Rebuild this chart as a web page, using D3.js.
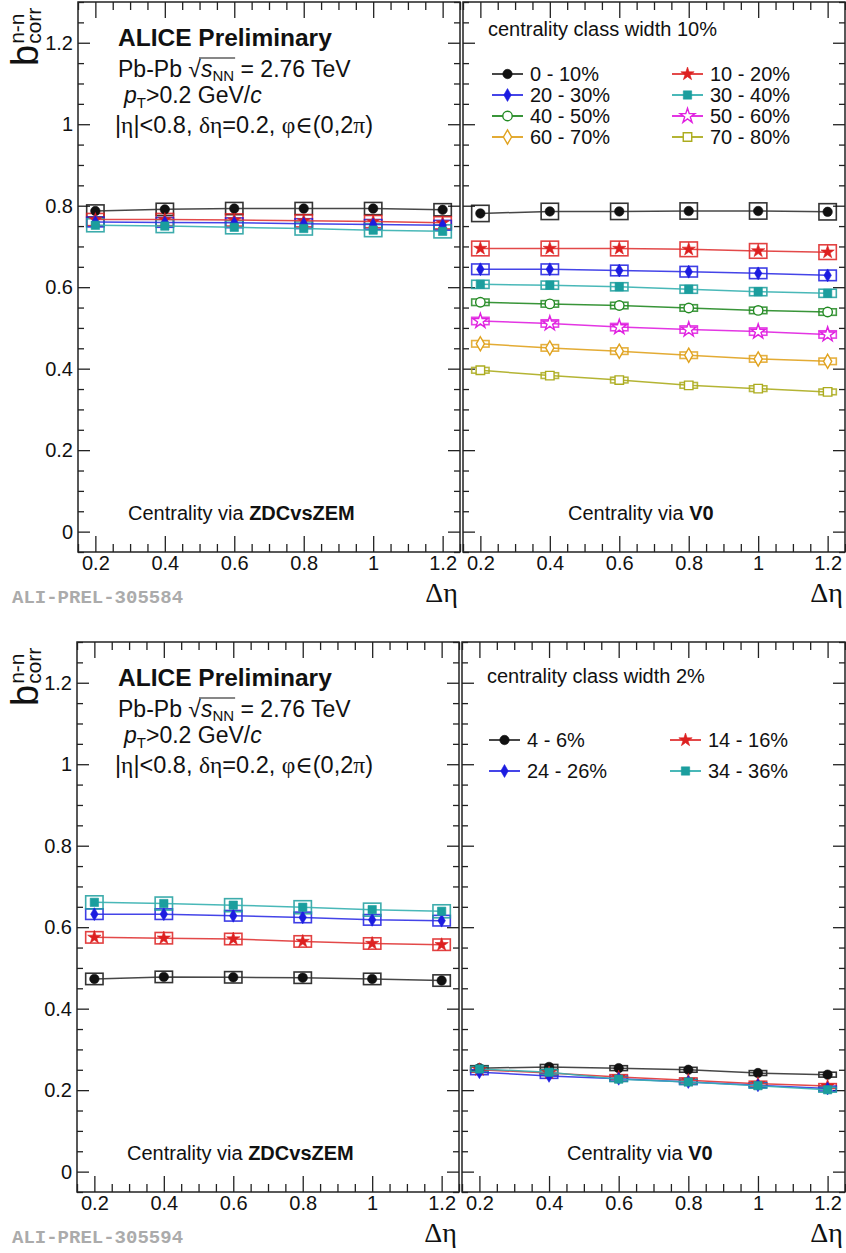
<!DOCTYPE html>
<html lang="en">
<head>
    <meta charset="UTF-8"/>
    <title>b_corr n-n vs delta eta</title>
    <script src="https://d3js.org/d3.v7.min.js"></script>
    <style>
        body { margin: 0; background: #fff; }
        text { font-family: "Liberation Sans", Arial, sans-serif; fill: #111; }
        .greek { font-family: "Liberation Serif", "DejaVu Serif", serif; }
    </style>
</head>
<body>
<div id="chart"></div>
<script>
    // eta gap bins (x values)
    const etaBins = [0.2, 0.4, 0.6, 0.8, 1.0, 1.2];

    // top-left: centrality via ZDCvsZEM, class width 10%
    const zdc10Labels = ["0 - 10%", "10 - 20%", "20 - 30%", "30 - 40%"];
    const zdc10_0 = [0.787, 0.791, 0.793, 0.793, 0.793, 0.790];
    const zdc10_10 = [0.766, 0.766, 0.765, 0.763, 0.761, 0.758];
    const zdc10_20 = [0.760, 0.759, 0.758, 0.756, 0.754, 0.752];
    const zdc10_30 = [0.752, 0.750, 0.747, 0.744, 0.740, 0.737];
    const zdc10Sys = [0.015, 0.015, 0.012, 0.016];

    // top-right: centrality via V0, class width 10%
    const v010Labels = ["0 - 10%", "10 - 20%", "20 - 30%", "30 - 40%", "40 - 50%", "50 - 60%", "60 - 70%", "70 - 80%"];
    const v010_0 = [0.781, 0.786, 0.786, 0.787, 0.787, 0.785];
    const v010_10 = [0.695, 0.695, 0.695, 0.693, 0.689, 0.686];
    const v010_20 = [0.644, 0.644, 0.641, 0.638, 0.634, 0.629];
    const v010_30 = [0.607, 0.605, 0.601, 0.595, 0.589, 0.585];
    const v010_40 = [0.563, 0.559, 0.555, 0.549, 0.543, 0.539];
    const v010_50 = [0.517, 0.511, 0.502, 0.496, 0.491, 0.484];
    const v010_60 = [0.461, 0.451, 0.443, 0.433, 0.424, 0.418];
    const v010_70 = [0.396, 0.383, 0.372, 0.359, 0.351, 0.343];
    const v010Sys = [0.020, 0.018, 0.013, 0.010, 0.008, 0.009, 0.008, 0.007];

    // bottom-left: centrality via ZDCvsZEM, class width 2%
    const zdc2Labels = ["4 - 6%", "14 - 16%", "24 - 26%", "34 - 36%"];
    const zdc2_4 = [0.473, 0.478, 0.477, 0.476, 0.473, 0.469];
    const zdc2_14 = [0.575, 0.573, 0.571, 0.565, 0.560, 0.557];
    const zdc2_24 = [0.632, 0.632, 0.628, 0.624, 0.618, 0.616];
    const zdc2_34 = [0.661, 0.658, 0.654, 0.649, 0.643, 0.639];
    const zdc2Sys = [0.014, 0.014, 0.013, 0.016];

    // bottom-right: centrality via V0, class width 2%
    const v02_4 = [0.254, 0.257, 0.254, 0.250, 0.242, 0.238];
    const v02_14 = [0.250, 0.242, 0.232, 0.224, 0.216, 0.210];
    const v02_24 = [0.244, 0.235, 0.228, 0.220, 0.212, 0.204];
    const v02_34 = [0.252, 0.244, 0.227, 0.220, 0.211, 0.201];
    const v02Sys = [0.006, 0.006, 0.006, 0.006];

    // tick values
    const xMajor = [0.2, 0.4, 0.6, 0.8, 1.0, 1.2];
    const yMajor = [0, 0.2, 0.4, 0.6, 0.8, 1.0, 1.2];

    // marker styles, one per centrality slot (ROOT-like)
    const styles = [
        {color: "#111111", line: "#333333", type: d3.symbolCircle, size: 70, open: false},
        {color: "#dd2020", line: "#e03535", type: d3.symbolStar, size: 55, open: false},
        {color: "#1c1ce0", line: "#3030e6", type: d3.symbolDiamond, size: 48, open: false},
        {color: "#1b9e9e", line: "#35b0b0", type: d3.symbolSquare, size: 70, open: false},
        {color: "#238a23", line: "#238a23", type: d3.symbolCircle, size: 70, open: true},
        {color: "#e020e0", line: "#e020e0", type: d3.symbolStar, size: 68, open: true},
        {color: "#e0a21e", line: "#e0a21e", type: d3.symbolDiamond, size: 58, open: true},
        {color: "#acac1e", line: "#acac1e", type: d3.symbolSquare, size: 72, open: true}
    ];

    const width = 846, height = 1253;
    const xDomain = [0.15, 1.25];
    const yDomain = [-0.05, 1.3];

    const svg = d3.select("#chart").append("svg")
        .attr("width", width)
        .attr("height", height)
        .style("background", "#fff");

    const fmt = d => String(+d.toFixed(1));

    function drawPanel(p) {
        const x = d3.scaleLinear().domain(xDomain).range([p.x0, p.x1]);
        const y = d3.scaleLinear().domain(yDomain).range([p.y1, p.y0]);
        const g = svg.append("g");

        const xMinor = d3.range(0.15, 1.2501, 0.05).filter(v => !xMajor.some(m => Math.abs(m - v) < 1e-6));
        const yMinor = d3.range(-0.05, 1.3001, 0.05).filter(v => !yMajor.some(m => Math.abs(m - v) < 1e-6));

        // bottom axis (ticks inward)
        g.append("g").attr("transform", "translate(0," + p.y1 + ")")
            .call(d3.axisBottom(x).tickValues(xMajor).tickSizeInner(-16).tickSizeOuter(0).tickPadding(4).tickFormat(fmt));
        g.append("g").attr("transform", "translate(0," + p.y1 + ")")
            .call(d3.axisBottom(x).tickValues(xMinor).tickSizeInner(-8).tickSizeOuter(0).tickFormat(""));
        // top axis
        g.append("g").attr("transform", "translate(0," + p.y0 + ")")
            .call(d3.axisTop(x).tickValues(xMajor).tickSizeInner(-16).tickSizeOuter(0).tickFormat(""));
        g.append("g").attr("transform", "translate(0," + p.y0 + ")")
            .call(d3.axisTop(x).tickValues(xMinor).tickSizeInner(-8).tickSizeOuter(0).tickFormat(""));
        // left axis
        g.append("g").attr("transform", "translate(" + p.x0 + ",0)")
            .call(d3.axisLeft(y).tickValues(yMajor).tickSizeInner(-12).tickSizeOuter(0).tickPadding(5)
                .tickFormat(p.yLabels ? fmt : ""));
        g.append("g").attr("transform", "translate(" + p.x0 + ",0)")
            .call(d3.axisLeft(y).tickValues(yMinor).tickSizeInner(-6).tickSizeOuter(0).tickFormat(""));
        // right axis
        g.append("g").attr("transform", "translate(" + p.x1 + ",0)")
            .call(d3.axisRight(y).tickValues(yMajor).tickSizeInner(-12).tickSizeOuter(0).tickFormat(""));
        g.append("g").attr("transform", "translate(" + p.x1 + ",0)")
            .call(d3.axisRight(y).tickValues(yMinor).tickSizeInner(-6).tickSizeOuter(0).tickFormat(""));

        g.selectAll(".domain").remove();
        g.selectAll(".tick line").attr("stroke", "#222").attr("stroke-width", 1.3);
        g.selectAll(".tick text").style("font-family", "Liberation Sans, Arial, sans-serif")
            .style("font-size", "20px").attr("fill", "#111");

        // frame
        g.append("rect")
            .attr("x", p.x0).attr("y", p.y0)
            .attr("width", p.x1 - p.x0).attr("height", p.y1 - p.y0)
            .attr("fill", "none").attr("stroke", "#222").attr("stroke-width", 1.5);

        const boxHalf = 0.025;
        // systematic boxes
        p.series.forEach(s => {
            const st = styles[s.style];
            g.append("g").selectAll("rect")
                .data(s.values.map((v, k) => ({x: etaBins[k], y: v})))
                .join("rect")
                .attr("x", d => x(d.x - boxHalf))
                .attr("y", d => y(d.y + s.sys))
                .attr("width", d => x(d.x + boxHalf) - x(d.x - boxHalf))
                .attr("height", d => y(d.y - s.sys) - y(d.y + s.sys))
                .attr("fill", "none")
                .attr("stroke", st.color)
                .attr("stroke-opacity", 0.85)
                .attr("stroke-width", 1.6);
        });
        // lines
        p.series.forEach(s => {
            const st = styles[s.style];
            g.append("path")
                .datum(s.values.map((v, k) => ({x: etaBins[k], y: v})))
                .attr("fill", "none")
                .attr("stroke", st.line)
                .attr("stroke-opacity", 0.9)
                .attr("stroke-width", 1.5)
                .attr("d", d3.line().x(d => x(d.x)).y(d => y(d.y)));
        });
        // markers
        p.series.forEach(s => {
            const st = styles[s.style];
            g.append("g").selectAll("path")
                .data(s.values.map((v, k) => ({x: etaBins[k], y: v})))
                .join("path")
                .attr("transform", d => "translate(" + x(d.x) + "," + y(d.y) + ")")
                .attr("d", d3.symbol().type(st.type).size(st.size))
                .attr("fill", st.open ? "#fff" : st.color)
                .attr("stroke", st.color)
                .attr("stroke-width", st.open ? 1.4 : 0.6);
        });

        // "Centrality via ..." label
        const c = g.append("text")
            .attr("x", p.viaX).attr("y", p.y1 - 32)
            .style("font-size", "20px");
        c.append("tspan").text("Centrality via ");
        c.append("tspan").style("font-weight", "bold").text(p.via);

        // x axis title
        g.append("text")
            .attr("x", p.x1 - 2).attr("y", p.y1 + 50)
            .attr("text-anchor", "end")
            .attr("class", "greek")
            .style("font-size", "28px")
            .text("Δη");

        return {x, y, g};
    }

    function legendItem(g, style, lx, ly, label) {
        const st = styles[style];
        g.append("line")
            .attr("x1", lx).attr("x2", lx + 31).attr("y1", ly).attr("y2", ly)
            .attr("stroke", st.line).attr("stroke-width", 1.8);
        g.append("path")
            .attr("transform", "translate(" + (lx + 15.5) + "," + ly + ")")
            .attr("d", d3.symbol().type(st.type).size(st.size))
            .attr("fill", st.open ? "#fff" : st.color)
            .attr("stroke", st.color)
            .attr("stroke-width", st.open ? 1.4 : 0.6);
        g.append("text")
            .attr("x", lx + 38).attr("y", ly + 7)
            .style("font-size", "20px")
            .text(label);
    }

    function drawInfo(x0, y0) {
        const g = svg.append("g");
        g.append("text").attr("x", x0).attr("y", y0)
            .style("font-size", "24.5px").style("font-weight", "bold")
            .text("ALICE Preliminary");

        const t = g.append("text").attr("x", x0).attr("y", y0 + 31).style("font-size", "23px");
        t.append("tspan").text("Pb-Pb ");
        t.append("tspan").text("√");
        t.append("tspan").style("font-style", "italic").text("s");
        t.append("tspan").style("font-size", "15px").attr("dy", 4).text("NN");
        t.append("tspan").attr("dy", -4).text(" = 2.76 TeV");
        const n = t.node();
        const sx0 = n.getStartPositionOfChar(7).x - 2;
        const sx1 = n.getEndPositionOfChar(9).x + 1;
        g.append("line")
            .attr("x1", sx0).attr("x2", sx1)
            .attr("y1", y0 + 31 - 19).attr("y2", y0 + 31 - 19)
            .attr("stroke", "#111").attr("stroke-width", 1.2);

        const pt = g.append("text").attr("x", x0 + 6).attr("y", y0 + 57).style("font-size", "23px");
        pt.append("tspan").style("font-style", "italic").text("p");
        pt.append("tspan").style("font-size", "15px").attr("dy", 5).text("T");
        pt.append("tspan").attr("dy", -5).text(">0.2 GeV/");
        pt.append("tspan").style("font-style", "italic").text("c");

        const eta = g.append("text").attr("x", x0 - 3).attr("y", y0 + 87).style("font-size", "23.5px");
        const parts = [["|", 0], ["η", 1], ["|<0.8, ", 0], ["δη", 1], ["=0.2, ", 0], ["φ∈", 1], ["(0,2", 0], ["π", 1], [")", 0]];
        parts.forEach(([s, gr]) => {
            const ts = eta.append("tspan").text(s);
            if (gr) ts.attr("class", "greek");
        });
    }

    function yTitle(x, y) {
        const g = svg.append("g").attr("transform", "translate(" + x + "," + y + ") rotate(-90)");
        const b = g.append("text").attr("x", 0).attr("y", 0).style("font-size", "38px").text("b");
        const bw = b.node().getComputedTextLength();
        g.append("text").attr("x", bw + 1).attr("y", -14).style("font-size", "21px").text("n-n");
        g.append("text").attr("x", bw + 1).attr("y", 3).style("font-size", "21px").text("corr");
    }

    function watermark(x, y, label) {
        svg.append("text").attr("x", x).attr("y", y)
            .style("font-family", "Liberation Mono, monospace")
            .style("font-weight", "bold")
            .style("font-size", "19px")
            .style("fill", "#ababab")
            .text(label);
    }

    // ---------- top row ----------
    const topY0 = 2, topY1 = 552;
    drawPanel({
        x0: 78, x1: 460, y0: topY0, y1: topY1, yLabels: true,
        via: "ZDCvsZEM", viaX: 128,
        series: [zdc10_0, zdc10_10, zdc10_20, zdc10_30]
            .map((v, i) => ({values: v, sys: zdc10Sys[i], style: i}))
    });
    const tr = drawPanel({
        x0: 463, x1: 845, y0: topY0, y1: topY1, yLabels: false,
        via: "V0", viaX: 568,
        series: [v010_0, v010_10, v010_20, v010_30, v010_40, v010_50, v010_60, v010_70]
            .map((v, i) => ({values: v, sys: v010Sys[i], style: i}))
    });
    tr.g.append("text").attr("x", 488).attr("y", topY0 + 34).style("font-size", "20px")
        .text("centrality class width 10%");
    v010Labels.forEach((lab, i) => {
        const col = i % 2, row = Math.floor(i / 2);
        legendItem(tr.g, i, col ? 672 : 492, topY0 + 72 + row * 21, lab);
    });
    drawInfo(118, topY0 + 44);
    yTitle(38, 66);
    watermark(12, 603, "ALI-PREL-305584");

    // ---------- bottom row ----------
    const botY0 = 642, botY1 = 1192;
    drawPanel({
        x0: 77, x1: 459, y0: botY0, y1: botY1, yLabels: true,
        via: "ZDCvsZEM", viaX: 127,
        series: [zdc2_4, zdc2_14, zdc2_24, zdc2_34]
            .map((v, i) => ({values: v, sys: zdc2Sys[i], style: i}))
    });
    const br = drawPanel({
        x0: 462, x1: 845, y0: botY0, y1: botY1, yLabels: false,
        via: "V0", viaX: 567,
        series: [v02_4, v02_14, v02_24, v02_34]
            .map((v, i) => ({values: v, sys: v02Sys[i], style: i}))
    });
    br.g.append("text").attr("x", 487).attr("y", botY0 + 41).style("font-size", "20px")
        .text("centrality class width 2%");
    zdc2Labels.forEach((lab, i) => {
        const col = i % 2, row = Math.floor(i / 2);
        legendItem(br.g, i, col ? 670 : 489, botY0 + 98 + row * 31, lab);
    });
    drawInfo(118, botY0 + 44);
    yTitle(38, 706);
    watermark(12, 1243, "ALI-PREL-305594");
</script>
</body>
</html>
